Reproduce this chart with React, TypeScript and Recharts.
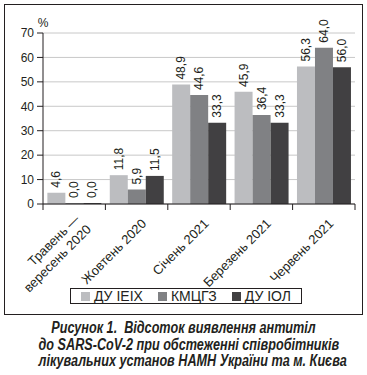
import { BarChart, Bar, XAxis, YAxis, CartesianGrid, Legend, LabelList } from "recharts";

const categories = ["Травень —\nвересень 2020", "Жовтень 2020", "Січень 2021", "Березень 2021", "Червень 2021"];
const duIeih = [4.6, 11.8, 48.9, 45.9, 56.3];
const kmtsgz = [0.0, 5.9, 44.6, 36.4, 64.0];
const duIol = [0.0, 11.5, 33.3, 33.3, 56.0];
const seriesNames = ["ДУ ІЕІХ", "КМЦГЗ", "ДУ ІОЛ"];
const yTicks = [0, 10, 20, 30, 40, 50, 60, 70];
const captionLines = [
  "Рисунок 1.  Відсоток виявлення антитіл",
  "до SARS-CoV-2 при обстеженні співробітників",
  "лікувальних установ НАМН України та м. Києва",
];

const colors = ["#bcbdc0", "#808184", "#414042"];
const ink = "#231f20";
const font = '"Liberation Sans", Arial, sans-serif';

const data = categories.map((name, i) => ({
  name,
  a: duIeih[i],
  b: kmtsgz[i],
  c: duIol[i],
}));

const fmt = (v: number) => v.toFixed(1).replace(".", ",");

function BarLabel(props: any) {
  const { x, y, width, value } = props;
  const cx = x + width / 2;
  const cy = y - 5;
  return (
    <text
      x={cx}
      y={cy}
      transform={`rotate(-90, ${cx}, ${cy})`}
      textAnchor="start"
      dominantBaseline="central"
      fontSize={12}
      fill={ink}
      fontFamily={font}
    >
      {fmt(Number(value))}
    </text>
  );
}

function XTick(props: any) {
  const { x, y, payload } = props;
  const half = payload.offset || 0;
  const lines = String(payload.value).split("\n");
  const last = payload.index === categories.length - 1;
  const multi = lines.length > 1;
  const ax = x + (multi ? 6 : 10.5);
  const ay = y + (multi ? 16 : 20.5);
  return (
    <g>
      <line x1={x - half} x2={x - half} y1={y} y2={y + 6} stroke={ink} />
      {last && <line x1={x + half} x2={x + half} y1={y} y2={y + 6} stroke={ink} />}
      <text
        x={ax}
        y={ay}
        transform={`rotate(-45, ${ax}, ${ay})`}
        textAnchor="end"
        fontSize={13}
        fill={ink}
        fontFamily={font}
      >
        {lines.map((l, i) => (
          <tspan key={i} x={ax + (i ? 1 : 0)} dy={i ? 15.5 : 0}>
            {l}
          </tspan>
        ))}
      </text>
    </g>
  );
}

function LegendBox(props: any) {
  const items = [...(props.payload || [])].sort(
    (p: any, q: any) => seriesNames.indexOf(p.value) - seriesNames.indexOf(q.value)
  );
  return (
    <div
      style={{
        boxSizing: "border-box",
        height: 16,
        border: `1px solid ${ink}`,
        display: "flex",
        justifyContent: "center",
        alignItems: "center",
        gap: 15,
        fontFamily: font,
        fontSize: 14,
        color: ink,
      }}
    >
      {items.map((p: any) => (
        <span key={p.value} style={{ display: "flex", alignItems: "center", gap: 4 }}>
          <span style={{ width: 9, height: 9, background: p.color, display: "inline-block" }} />
          <span>{p.value}</span>
        </span>
      ))}
    </div>
  );
}

export default function App() {
  return (
    <div style={{ position: "absolute", left: 0, top: 0, width: 367, height: 375, background: "#fff" }}>
      <div
        style={{
          position: "absolute",
          left: 4,
          top: 4,
          width: 359,
          height: 311,
          boxSizing: "border-box",
          border: `1.5px solid ${ink}`,
        }}
      />
      <div
        style={{
          position: "absolute",
          left: 33,
          top: 16,
          width: 20,
          textAlign: "center",
          fontFamily: font,
          fontSize: 12,
          color: ink,
        }}
      >
        %
      </div>
      <div style={{ position: "absolute", left: 0, top: 0 }}>
        <BarChart
          width={367}
          height={312}
          data={data}
          margin={{ top: 33, right: 12, left: 0, bottom: 0 }}
          barCategoryGap="7%"
          barGap={0}
        >
          <CartesianGrid vertical={false} stroke="#c8c8c8" />
          <XAxis
            dataKey="name"
            interval={0}
            height={108}
            tickSize={0}
            tickMargin={0}
            tickLine={false}
            axisLine={{ stroke: ink }}
            tick={<XTick />}
          />
          <YAxis
            domain={[0, 70]}
            ticks={yTicks}
            width={43}
            tickSize={6}
            tickMargin={3}
            axisLine={{ stroke: ink }}
            tickLine={{ stroke: ink }}
            tick={{ fill: ink, fontSize: 12, fontFamily: font }}
          />
          <Legend
            layout="horizontal"
            verticalAlign="middle"
            align="center"
            wrapperStyle={{ top: 288, left: 70, width: 232, bottom: "auto" }}
            content={<LegendBox />}
          />
          <Bar dataKey="a" name={seriesNames[0]} fill={colors[0]} isAnimationActive={false} minPointSize={1}>
            <LabelList dataKey="a" content={<BarLabel />} />
          </Bar>
          <Bar dataKey="b" name={seriesNames[1]} fill={colors[1]} isAnimationActive={false} minPointSize={1}>
            <LabelList dataKey="b" content={<BarLabel />} />
          </Bar>
          <Bar dataKey="c" name={seriesNames[2]} fill={colors[2]} isAnimationActive={false} minPointSize={1}>
            <LabelList dataKey="c" content={<BarLabel />} />
          </Bar>
        </BarChart>
      </div>
      <div
        style={{
          position: "absolute",
          left: 0,
          top: 320,
          width: 367,
          textAlign: "center",
          fontFamily: font,
          fontWeight: "bold",
          fontStyle: "italic",
          fontSize: 16,
          lineHeight: "16.5px",
          color: ink,
        }}
      >
        {captionLines.map((l) => (
          <div key={l} style={{ whiteSpace: "pre", transform: "scaleX(0.79)", transformOrigin: "center" }}>
            {l}
          </div>
        ))}
      </div>
    </div>
  );
}
